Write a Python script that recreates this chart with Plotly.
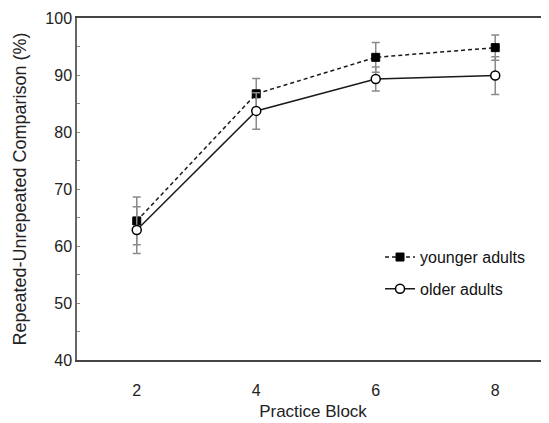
import plotly.graph_objects as go

blocks = [2, 4, 6, 8]
younger = [64.4, 86.7, 93.1, 94.8]
younger_err = [4.2, 2.7, 2.6, 2.2]
older = [62.8, 83.7, 89.3, 89.9]
older_err = [4.1, 3.2, 2.1, 3.3]

fig = go.Figure()
fig.add_trace(go.Scatter(
    x=blocks, y=younger, name="younger adults", mode="lines+markers",
    line=dict(color="#1a1a1a", width=1.5, dash="4px,3px"),
    marker=dict(symbol="square", size=8, color="#000000", line=dict(color="#000000", width=1)),
    error_y=dict(type="data", array=younger_err, color="#8a8a8a", thickness=1.5, width=4),
    legendgroup="a",
))
fig.add_trace(go.Scatter(
    x=blocks, y=older, name="older adults", mode="lines+markers",
    line=dict(color="#1a1a1a", width=1.5),
    marker=dict(symbol="circle", size=9, color="#ffffff", line=dict(color="#000000", width=1.5)),
    error_y=dict(type="data", array=older_err, color="#8a8a8a", thickness=1.5, width=4),
    legendgroup="b",
))

fig.update_layout(
    width=549, height=423,
    margin=dict(l=69, r=8, t=10, b=71, autoexpand=False),
    paper_bgcolor="white", plot_bgcolor="white",
    font=dict(family="Liberation Sans, Arial, sans-serif", size=16, color="#222222"),
    showlegend=True,
    legend=dict(x=0.642, y=0.254, xanchor="left", yanchor="middle",
                font=dict(size=16, color="#111111"), tracegroupgap=8,
                bgcolor="rgba(0,0,0,0)"),
)
fig.update_xaxes(
    range=[1, 8.9], tickvals=blocks, showgrid=False, zeroline=False,
    showline=True, linecolor="#444444", linewidth=1.5, mirror=True,
    ticks="outside", ticklen=15, tickcolor="rgba(0,0,0,0)",
    tickfont=dict(size=16),
    title=dict(text="Practice Block", font=dict(size=17), standoff=7),
)
fig.update_yaxes(
    range=[40, 100], dtick=10, showgrid=False, zeroline=False,
    showline=True, linecolor="#666666", linewidth=1.5,
    ticks="inside", ticklen=3, tickcolor="#888888",
    minor=dict(dtick=5, ticks="inside", ticklen=3, tickcolor="#888888"),
    tickfont=dict(size=16),
    title=dict(text="Repeated-Unrepeated Comparison (%)", font=dict(size=18), standoff=14),
)

fig.write_html("out.html")
